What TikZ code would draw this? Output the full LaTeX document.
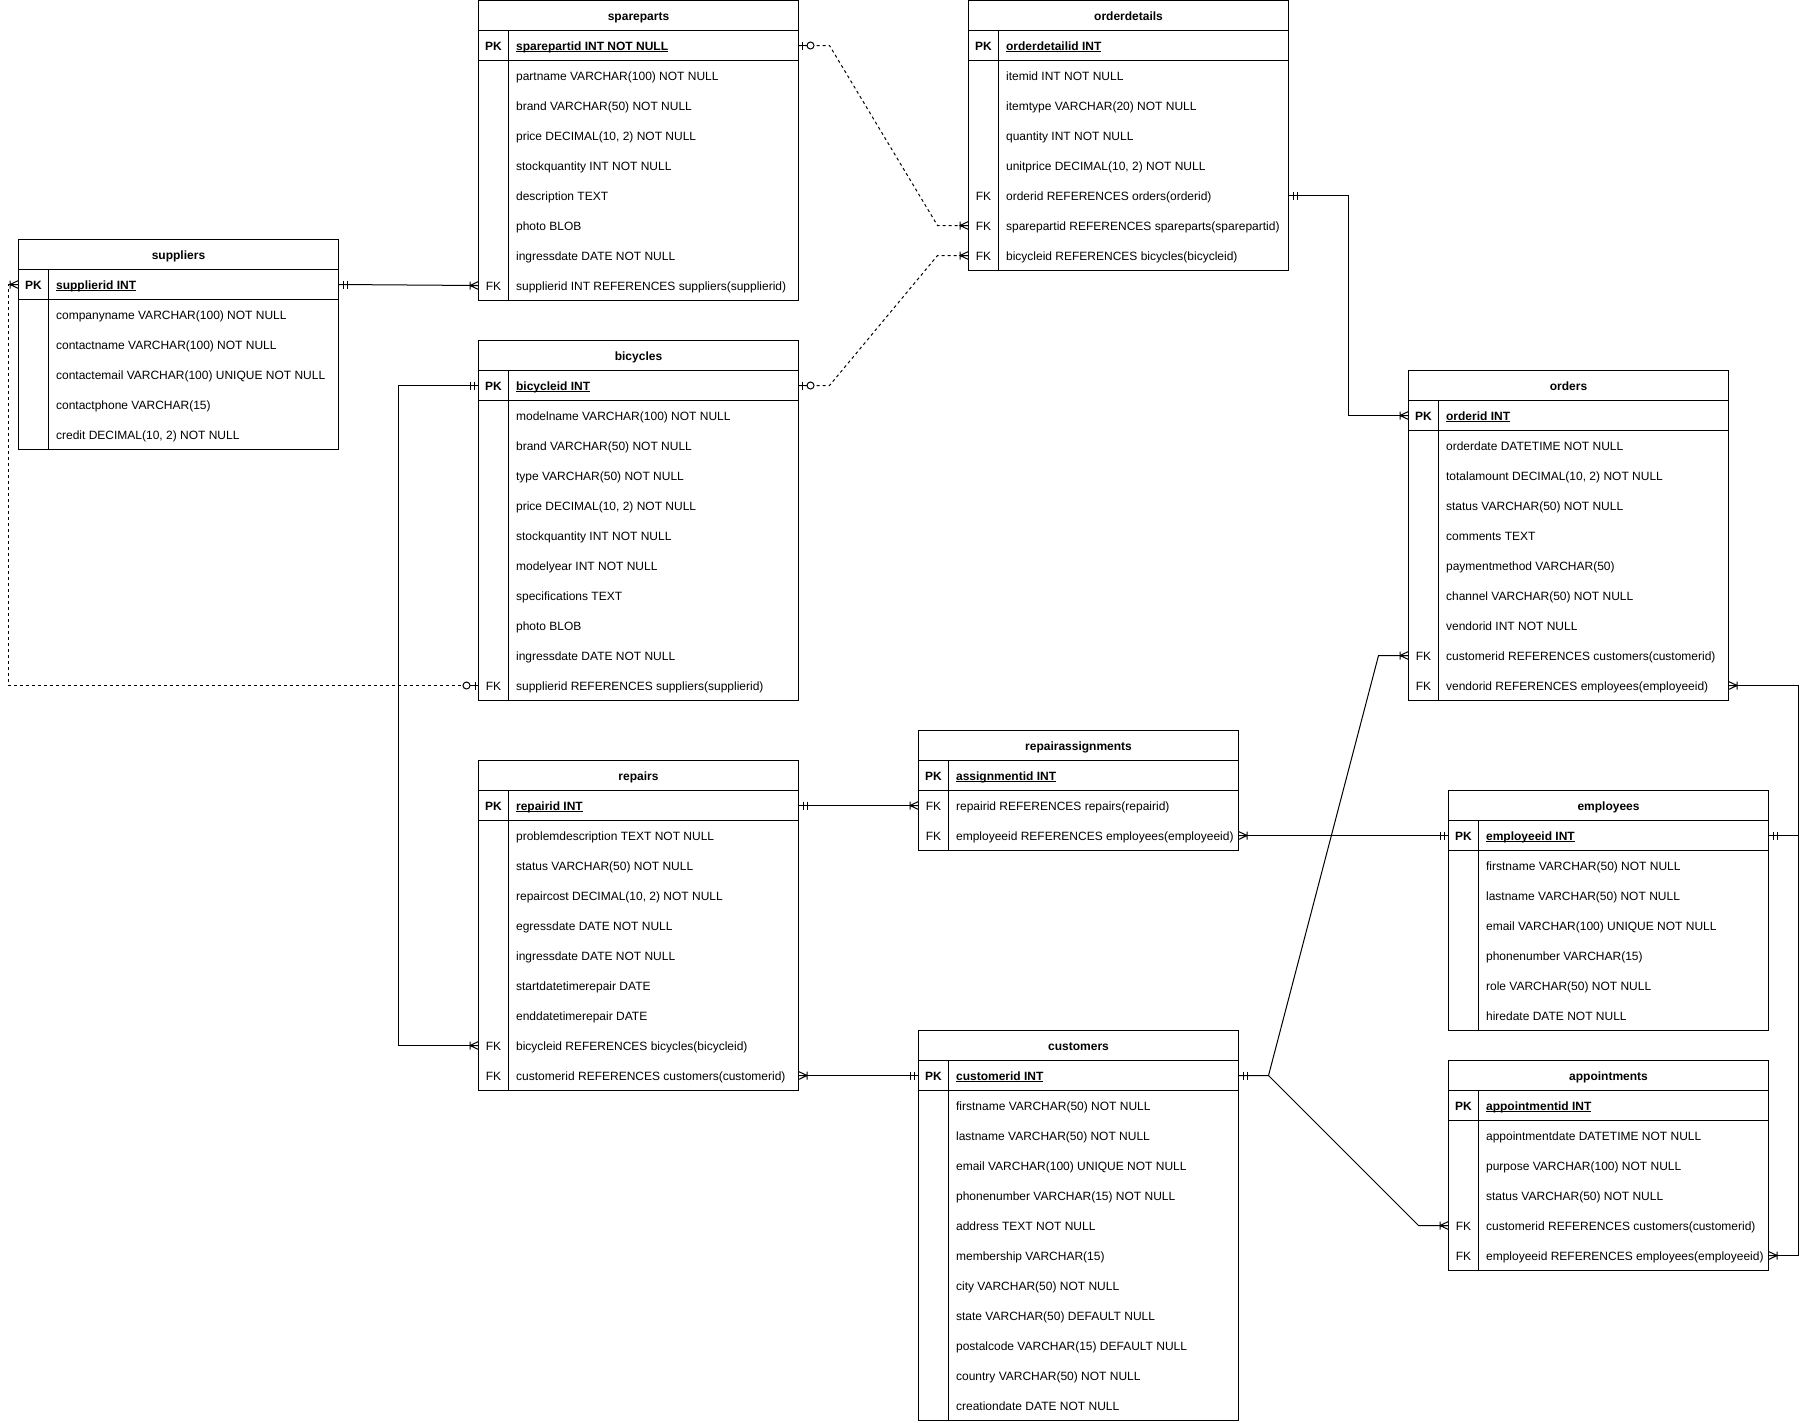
\documentclass[tikz,border=0pt]{standalone}
\usepackage{fontspec}
\setmainfont{Liberation Sans}
\tikzset{
  erframe/.style={draw=black,line width=0.75pt,fill=none,inner sep=0pt,outer sep=0pt,rectangle,anchor=north west,minimum width=240pt},
  errowbox/.style={draw=none,inner sep=0pt,outer sep=0pt,rectangle,anchor=north west,minimum width=240pt,minimum height=22.5pt},
  ertext/.style={inner sep=0pt,outer sep=0pt,font=\fontsize{9pt}{11pt}\selectfont,text=black},
  erfield/.style={ertext,anchor=base west},
  erkey/.style={ertext,anchor=base},
  ertitle/.style={ertext,anchor=base,font=\fontsize{9pt}{11pt}\selectfont\bfseries},
  erline/.style={draw=black,line width=0.75pt},
  rel/.style={erline,line join=miter},
  reldash/.style={rel,dash pattern=on 2.25pt off 2.25pt},
  ermark/.style={erline},
  ermarkc/.style={erline,fill=white},
}
\newcount\errow
\newsavebox\erulbox
\newcommand{\erul}[1]{\sbox\erulbox{#1}\rlap{\rule[-1.3pt]{\wd\erulbox}{0.75pt}}\usebox\erulbox}
\newcommand{\ertable}[4]{% name, x, y, title
  \def\curt{#1}\def\curx{#2}\def\cury{#3}\errow=0
  \node[ertitle] (#1-title) at ({#2+160},{#3+20}) {#4};
}
\newcommand{\errowdo}[3]{% key, text, style addition
  \advance\errow by 1
  \pgfmathsetmacro\rowtop{\cury+30*\the\errow}
  \node[errowbox] (\curt-r\the\errow) at (\curx,\rowtop) {};
  \def\tmpk{#1}\ifx\tmpk\empty\else
    \node[erkey#3] (\curt-k\the\errow) at ({\curx+15},{\rowtop+20}) {#1};
  \fi
  \node[erfield] (\curt-t\the\errow) at ({\curx+37.6},{\rowtop+20}) {#2};
}
\newcommand{\erpk}[1]{\errowdo{PK}{\erul{\bfseries #1}}{,font=\fontsize{9pt}{11pt}\selectfont\bfseries}}
\newcommand{\errw}[1]{\errowdo{}{#1}{}}
\newcommand{\erfk}[1]{\errowdo{FK}{#1}{}}
\newcommand{\erend}{%
  \pgfmathsetmacro\tblh{(30+30*\the\errow)*0.75}
  \node[erframe,minimum height=\tblh pt] (\curt) at (\curx,\cury) {};
  \draw[erline] (\curt-r1.north west) -- (\curt-r1.north east);
  \draw[erline] (\curt-r1.south west) -- (\curt-r1.south east);
  \draw[erline] ([xshift=22.5pt]\curt-r1.north west) -- ([xshift=22.5pt]\curt-r\the\errow.south west);
}
% markers: #1 anchor, #2 direction (1 = towards +x, -1 = towards -x)
\newcommand{\mkone}[2]{\begin{scope}[shift={(#1)},xscale=#2]
  \draw[ermark] (4.5,-4) -- (4.5,4) (8.5,-4) -- (8.5,4);
\end{scope}}
\newcommand{\mkcrow}[2]{\begin{scope}[shift={(#1)},xscale=#2]
  \draw[ermark] (0,-4) -- (8.5,0) -- (0,4) (8.5,-4) -- (8.5,4) (0,0) -- (8.5,0);
\end{scope}}
\newcommand{\mkzero}[2]{\begin{scope}[shift={(#1)},xscale=#2]
  \draw[ermark] (3.5,-4) -- (3.5,4) (0,0) -- (8.5,0);
  \draw[ermarkc] (12,0) circle[radius=3.5];
\end{scope}}
\begin{document}
\begin{tikzpicture}[x=0.75pt,y=-0.75pt]
\fill[white] (0,0) rectangle (1808,1422);
\useasboundingbox (0,0) rectangle (1808,1422);

\ertable{suppliers}{18.5}{239.5}{suppliers}
\erpk{supplierid INT}
\errw{companyname VARCHAR(100) NOT NULL}
\errw{contactname VARCHAR(100) NOT NULL}
\errw{contactemail VARCHAR(100) UNIQUE NOT NULL}
\errw{contactphone VARCHAR(15)}
\errw{credit DECIMAL(10, 2) NOT NULL}
\erend

\ertable{spareparts}{478.5}{0.5}{spareparts}
\erpk{sparepartid INT NOT NULL}
\errw{partname VARCHAR(100) NOT NULL}
\errw{brand VARCHAR(50) NOT NULL}
\errw{price DECIMAL(10, 2) NOT NULL}
\errw{stockquantity INT NOT NULL}
\errw{description TEXT}
\errw{photo BLOB}
\errw{ingressdate DATE NOT NULL}
\erfk{supplierid INT REFERENCES suppliers(supplierid)}
\erend

\ertable{orderdetails}{968.5}{0.5}{orderdetails}
\erpk{orderdetailid INT}
\errw{itemid INT NOT NULL}
\errw{itemtype VARCHAR(20) NOT NULL}
\errw{quantity INT NOT NULL}
\errw{unitprice DECIMAL(10, 2) NOT NULL}
\erfk{orderid REFERENCES orders(orderid)}
\erfk{sparepartid REFERENCES spareparts(sparepartid)}
\erfk{bicycleid REFERENCES bicycles(bicycleid)}
\erend

\ertable{bicycles}{478.5}{340.5}{bicycles}
\erpk{bicycleid INT}
\errw{modelname VARCHAR(100) NOT NULL}
\errw{brand VARCHAR(50) NOT NULL}
\errw{type VARCHAR(50) NOT NULL}
\errw{price DECIMAL(10, 2) NOT NULL}
\errw{stockquantity INT NOT NULL}
\errw{modelyear INT NOT NULL}
\errw{specifications TEXT}
\errw{photo BLOB}
\errw{ingressdate DATE NOT NULL}
\erfk{supplierid REFERENCES suppliers(supplierid)}
\erend

\ertable{repairs}{478.5}{760.5}{repairs}
\erpk{repairid INT}
\errw{problemdescription TEXT NOT NULL}
\errw{status VARCHAR(50) NOT NULL}
\errw{repaircost DECIMAL(10, 2) NOT NULL}
\errw{egressdate DATE NOT NULL}
\errw{ingressdate DATE NOT NULL}
\errw{startdatetimerepair DATE}
\errw{enddatetimerepair DATE}
\erfk{bicycleid REFERENCES bicycles(bicycleid)}
\erfk{customerid REFERENCES customers(customerid)}
\erend

\ertable{repairassignments}{918.5}{730.5}{repairassignments}
\erpk{assignmentid INT}
\erfk{repairid REFERENCES repairs(repairid)}
\erfk{employeeid REFERENCES employees(employeeid)}
\erend

\ertable{customers}{918.5}{1030.5}{customers}
\erpk{customerid INT}
\errw{firstname VARCHAR(50) NOT NULL}
\errw{lastname VARCHAR(50) NOT NULL}
\errw{email VARCHAR(100) UNIQUE NOT NULL}
\errw{phonenumber VARCHAR(15) NOT NULL}
\errw{address TEXT NOT NULL}
\errw{membership VARCHAR(15)}
\errw{city VARCHAR(50) NOT NULL}
\errw{state VARCHAR(50) DEFAULT NULL}
\errw{postalcode VARCHAR(15) DEFAULT NULL}
\errw{country VARCHAR(50) NOT NULL}
\errw{creationdate DATE NOT NULL}
\erend

\ertable{orders}{1408.5}{370.5}{orders}
\erpk{orderid INT}
\errw{orderdate DATETIME NOT NULL}
\errw{totalamount DECIMAL(10, 2) NOT NULL}
\errw{status VARCHAR(50) NOT NULL}
\errw{comments TEXT}
\errw{paymentmethod VARCHAR(50)}
\errw{channel VARCHAR(50) NOT NULL}
\errw{vendorid INT NOT NULL}
\erfk{customerid REFERENCES customers(customerid)}
\erfk{vendorid REFERENCES employees(employeeid)}
\erend

\ertable{employees}{1448.5}{790.5}{employees}
\erpk{employeeid INT}
\errw{firstname VARCHAR(50) NOT NULL}
\errw{lastname VARCHAR(50) NOT NULL}
\errw{email VARCHAR(100) UNIQUE NOT NULL}
\errw{phonenumber VARCHAR(15)}
\errw{role VARCHAR(50) NOT NULL}
\errw{hiredate DATE NOT NULL}
\erend

\ertable{appointments}{1448.5}{1060.5}{appointments}
\erpk{appointmentid INT}
\errw{appointmentdate DATETIME NOT NULL}
\errw{purpose VARCHAR(100) NOT NULL}
\errw{status VARCHAR(50) NOT NULL}
\erfk{customerid REFERENCES customers(customerid)}
\erfk{employeeid REFERENCES employees(employeeid)}
\erend

\coordinate (laneA) at (8.5,0);
\coordinate (laneB) at (398.5,0);
\coordinate (laneC) at (1348.5,0);
\coordinate (laneD) at (1798.5,0);
\coordinate (hub) at ([xshift=22.5pt]customers-r1.east);

% connectors
\draw[rel] (suppliers-r1.east) -- (spareparts-r9.west);
\draw[reldash] (bicycles-r11.west) -- (bicycles-r11.west -| laneA) -- (suppliers-r1.west -| laneA) -- (suppliers-r1.west);
\draw[reldash] (spareparts-r1.east) -- ([xshift=23.25pt]spareparts-r1.east) -- ([xshift=-23.25pt]orderdetails-r7.west) -- (orderdetails-r7.west);
\draw[reldash] (bicycles-r1.east) -- ([xshift=23.25pt]bicycles-r1.east) -- ([xshift=-23.25pt]orderdetails-r8.west) -- (orderdetails-r8.west);
\draw[rel] (orderdetails-r6.east) -- (orderdetails-r6.east -| laneC) -- (orders-r1.west -| laneC) -- (orders-r1.west);
\draw[rel] (bicycles-r1.west) -- (bicycles-r1.west -| laneB) -- (repairs-r9.west -| laneB) -- (repairs-r9.west);
\draw[rel] (repairs-r1.east) -- (repairassignments-r2.west);
\draw[rel] (repairassignments-r3.east) -- (employees-r1.west);
\draw[rel] (repairs-r10.east) -- (customers-r1.west);
\draw[rel] (customers-r1.east) -- (hub) -- ([xshift=-22.5pt]orders-r9.west) -- (orders-r9.west);
\draw[rel] (hub) -- ([xshift=-22.5pt]appointments-r5.west) -- (appointments-r5.west);
\draw[rel] (employees-r1.east) -- (employees-r1.east -| laneD) -- (orders-r10.east -| laneD) -- (orders-r10.east);
\draw[rel] (employees-r1.east -| laneD) -- (appointments-r6.east -| laneD) -- (appointments-r6.east);

% end markers
\mkone{suppliers-r1.east}{1}
\mkcrow{spareparts-r9.west}{-1}
\mkcrow{suppliers-r1.west}{-1}
\mkzero{bicycles-r11.west}{-1}
\mkzero{spareparts-r1.east}{1}
\mkcrow{orderdetails-r7.west}{-1}
\mkzero{bicycles-r1.east}{1}
\mkcrow{orderdetails-r8.west}{-1}
\mkone{orderdetails-r6.east}{1}
\mkcrow{orders-r1.west}{-1}
\mkone{bicycles-r1.west}{-1}
\mkcrow{repairs-r9.west}{-1}
\mkone{repairs-r1.east}{1}
\mkcrow{repairassignments-r2.west}{-1}
\mkcrow{repairassignments-r3.east}{1}
\mkone{employees-r1.west}{-1}
\mkcrow{repairs-r10.east}{1}
\mkone{customers-r1.west}{-1}
\mkone{customers-r1.east}{1}
\mkcrow{orders-r9.west}{-1}
\mkcrow{appointments-r5.west}{-1}
\mkone{employees-r1.east}{1}
\mkcrow{orders-r10.east}{1}
\mkcrow{appointments-r6.east}{1}
\end{tikzpicture}
\end{document}
